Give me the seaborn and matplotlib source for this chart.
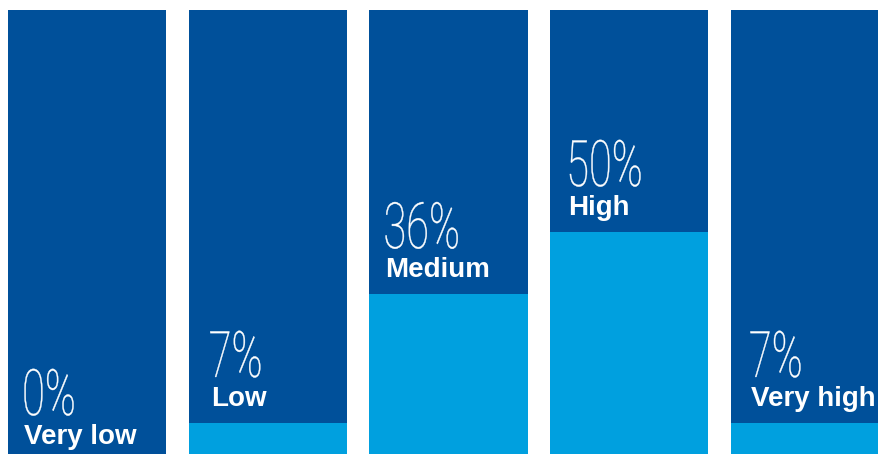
import numpy as np
import pandas as pd
import matplotlib
matplotlib.use("Agg")
import matplotlib.pyplot as plt
import seaborn as sns
from matplotlib.textpath import TextPath
from matplotlib.patches import PathPatch
from matplotlib.font_manager import FontProperties
from matplotlib.transforms import Affine2D

# Data
levels = ["Very low", "Low", "Medium", "High", "Very high"]
shares = [0, 7, 36, 50, 7]
full = [100, 100, 100, 100, 100]

DARK = "#00509a"
LIGHT = "#00a0df"

# layout: text inset from the left edge of each column, in pixels
text_dx = [16, 22, 16, 18, 20]

sns.set_style("white")
plt.rcParams['font.family'] = ['Liberation Sans', 'DejaVu Sans']

df = pd.DataFrame({"level": levels, "share": shares, "full": full})

fig = plt.figure(figsize=(8.79, 4.54), dpi=100)
ax = fig.add_axes([0, 0, 1, 1])

bw = 0.875
sns.barplot(data=df, x="level", y="full", color=DARK, width=bw,
            saturation=1, errorbar=None, linewidth=0, ax=ax)
sns.barplot(data=df, x="level", y="share", color=LIGHT, width=bw,
            saturation=1, errorbar=None, linewidth=0, ax=ax)

ax.set_xlim(-0.482, 4.382)
ax.set_ylim(0, 102.25)
ax.axis("off")

# thin, condensed percentage figures
thin = FontProperties(family=["Roboto", "DejaVu Sans"], weight=100)

for i, (lab, v) in enumerate(zip(levels, shares)):
    left = i - bw / 2
    pad = 17 if v > 0 else 10
    dx = text_dx[i]
    ax.annotate(lab, xy=(left, v), xytext=(dx, pad), textcoords="offset pixels",
                ha="left", va="baseline", color="white",
                fontsize=20, fontweight="bold")
    px, py = ax.transData.transform((left, v))
    tp = TextPath((0, 0), f"{v}%", size=64, prop=thin)
    patch = PathPatch(tp, facecolor="white", edgecolor="white", linewidth=0.3,
                      transform=Affine2D().scale(0.65, 1.0).translate(px + dx - 2, py + pad + 29))
    fig.add_artist(patch)

fig.savefig("out.png", dpi=100)
